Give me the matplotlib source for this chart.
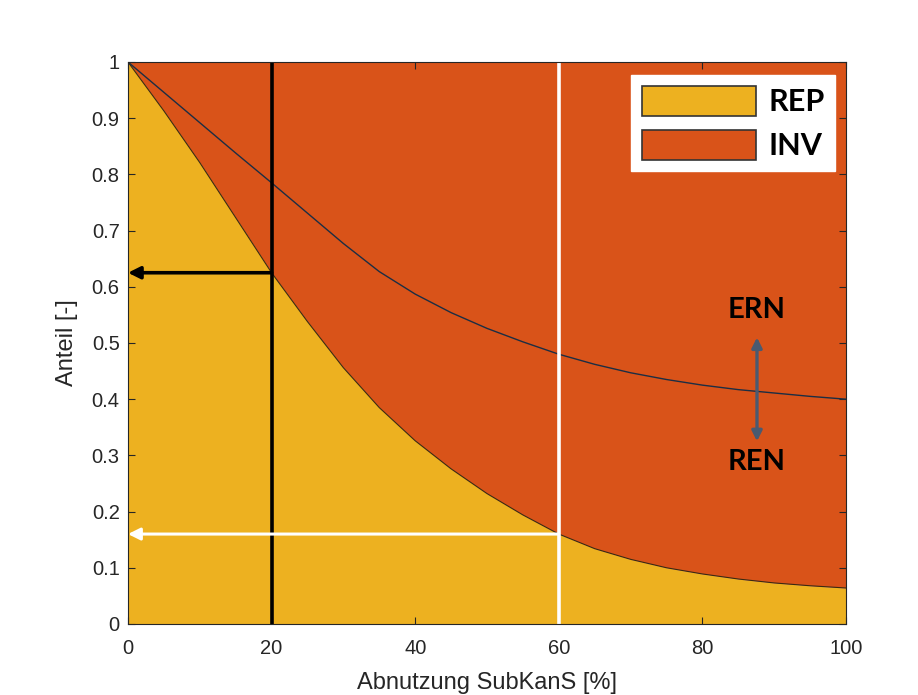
import numpy as np
import matplotlib.pyplot as plt
from matplotlib.patches import Patch

# Abnutzung SubKanS [%]
x = [0, 5, 10, 15, 20, 25, 30, 35, 40, 45, 50, 55, 60, 65, 70, 75, 80, 85, 90, 95, 100]
# Grenze REP / INV
rep = [1.0, 0.913, 0.821, 0.723, 0.625, 0.538, 0.456, 0.385, 0.326, 0.276, 0.232,
       0.194, 0.16, 0.134, 0.115, 0.100, 0.089, 0.080, 0.073, 0.068, 0.064]
# Grenze ERN / REN
ern = [1.0, 0.946, 0.892, 0.838, 0.785, 0.731, 0.677, 0.627, 0.587, 0.554, 0.526,
       0.502, 0.48, 0.462, 0.447, 0.435, 0.425, 0.417, 0.411, 0.405, 0.40]

x_black, y_black = 20, 0.625
x_white, y_white = 60, 0.16

c_rep = '#edb120'
c_inv = '#d95319'
c_axis = '#262626'

plt.rcParams['font.family'] = ['Liberation Sans', 'DejaVu Sans']

fig = plt.figure(figsize=(9.18, 6.95), dpi=100)
ax = fig.add_axes([0.1394, 0.1022, 0.7822, 0.8086])

ax.fill_between(x, 0, rep, color=c_rep, lw=0)
ax.fill_between(x, rep, 1, color=c_inv, lw=0)
ax.plot(x, rep, color='#3a2a10', lw=0.8)
ax.plot(x, ern, color='#1c2e44', lw=1.0)

# Markierungen
ax.axvline(x_black, color='black', lw=2.6)
ax.annotate('', xy=(0, y_black), xytext=(x_black, y_black),
            arrowprops=dict(arrowstyle='-|>', color='black', lw=2.6,
                            mutation_scale=18, shrinkA=0, shrinkB=0))
ax.axvline(x_white, color='white', lw=2.6)
ax.annotate('', xy=(0, y_white), xytext=(x_white, y_white),
            arrowprops=dict(arrowstyle='-|>', color='white', lw=2.2,
                            mutation_scale=18, shrinkA=0, shrinkB=0))

ax.annotate('', xy=(87.6, 0.51), xytext=(87.6, 0.325),
            arrowprops=dict(arrowstyle='<|-|>', color='#4a5a70', lw=2.4,
                            mutation_scale=15, shrinkA=0, shrinkB=0))
ax.text(87.6, 0.558, 'ERN', ha='center', va='center', fontsize=21,
        fontweight='bold', family=['Lato', 'DejaVu Sans'], color='black')
ax.text(87.6, 0.288, 'REN', ha='center', va='center', fontsize=21,
        fontweight='bold', family=['Lato', 'DejaVu Sans'], color='black')

handles = [Patch(facecolor=c_rep, edgecolor='#333333', lw=1.2, label='REP'),
           Patch(facecolor=c_inv, edgecolor='#333333', lw=1.2, label='INV')]
leg = ax.legend(handles=handles, loc='upper right', bbox_to_anchor=(0.985, 0.977),
                borderaxespad=0,
                prop={'family': 'Lato', 'weight': 'bold', 'size': 22},
                handlelength=3.75, handleheight=1.15, handletextpad=0.4,
                labelspacing=0.45, borderpad=0.35, fancybox=False, framealpha=1,
                edgecolor='white')

ax.set_xlim(0, 100)
ax.set_ylim(0, 1)
ax.set_xticks(np.arange(0, 101, 20))
ax.set_yticks(np.arange(0, 1.01, 0.1))
ax.set_yticklabels(['0', '0.1', '0.2', '0.3', '0.4', '0.5', '0.6', '0.7', '0.8', '0.9', '1'])
ax.tick_params(direction='in', top=True, right=True, length=5, width=0.8,
               colors=c_axis, labelsize=14.5)
ax.tick_params(axis='x', pad=11)
ax.tick_params(axis='y', pad=6)
for s in ax.spines.values():
    s.set_color(c_axis)
    s.set_linewidth(0.8)
ax.set_xlabel('Abnutzung SubKanS [%]', fontsize=17, color=c_axis, labelpad=10)
ax.set_ylabel('Anteil [-]', fontsize=17, color=c_axis, labelpad=10)

fig.savefig('out.png', dpi=100)
